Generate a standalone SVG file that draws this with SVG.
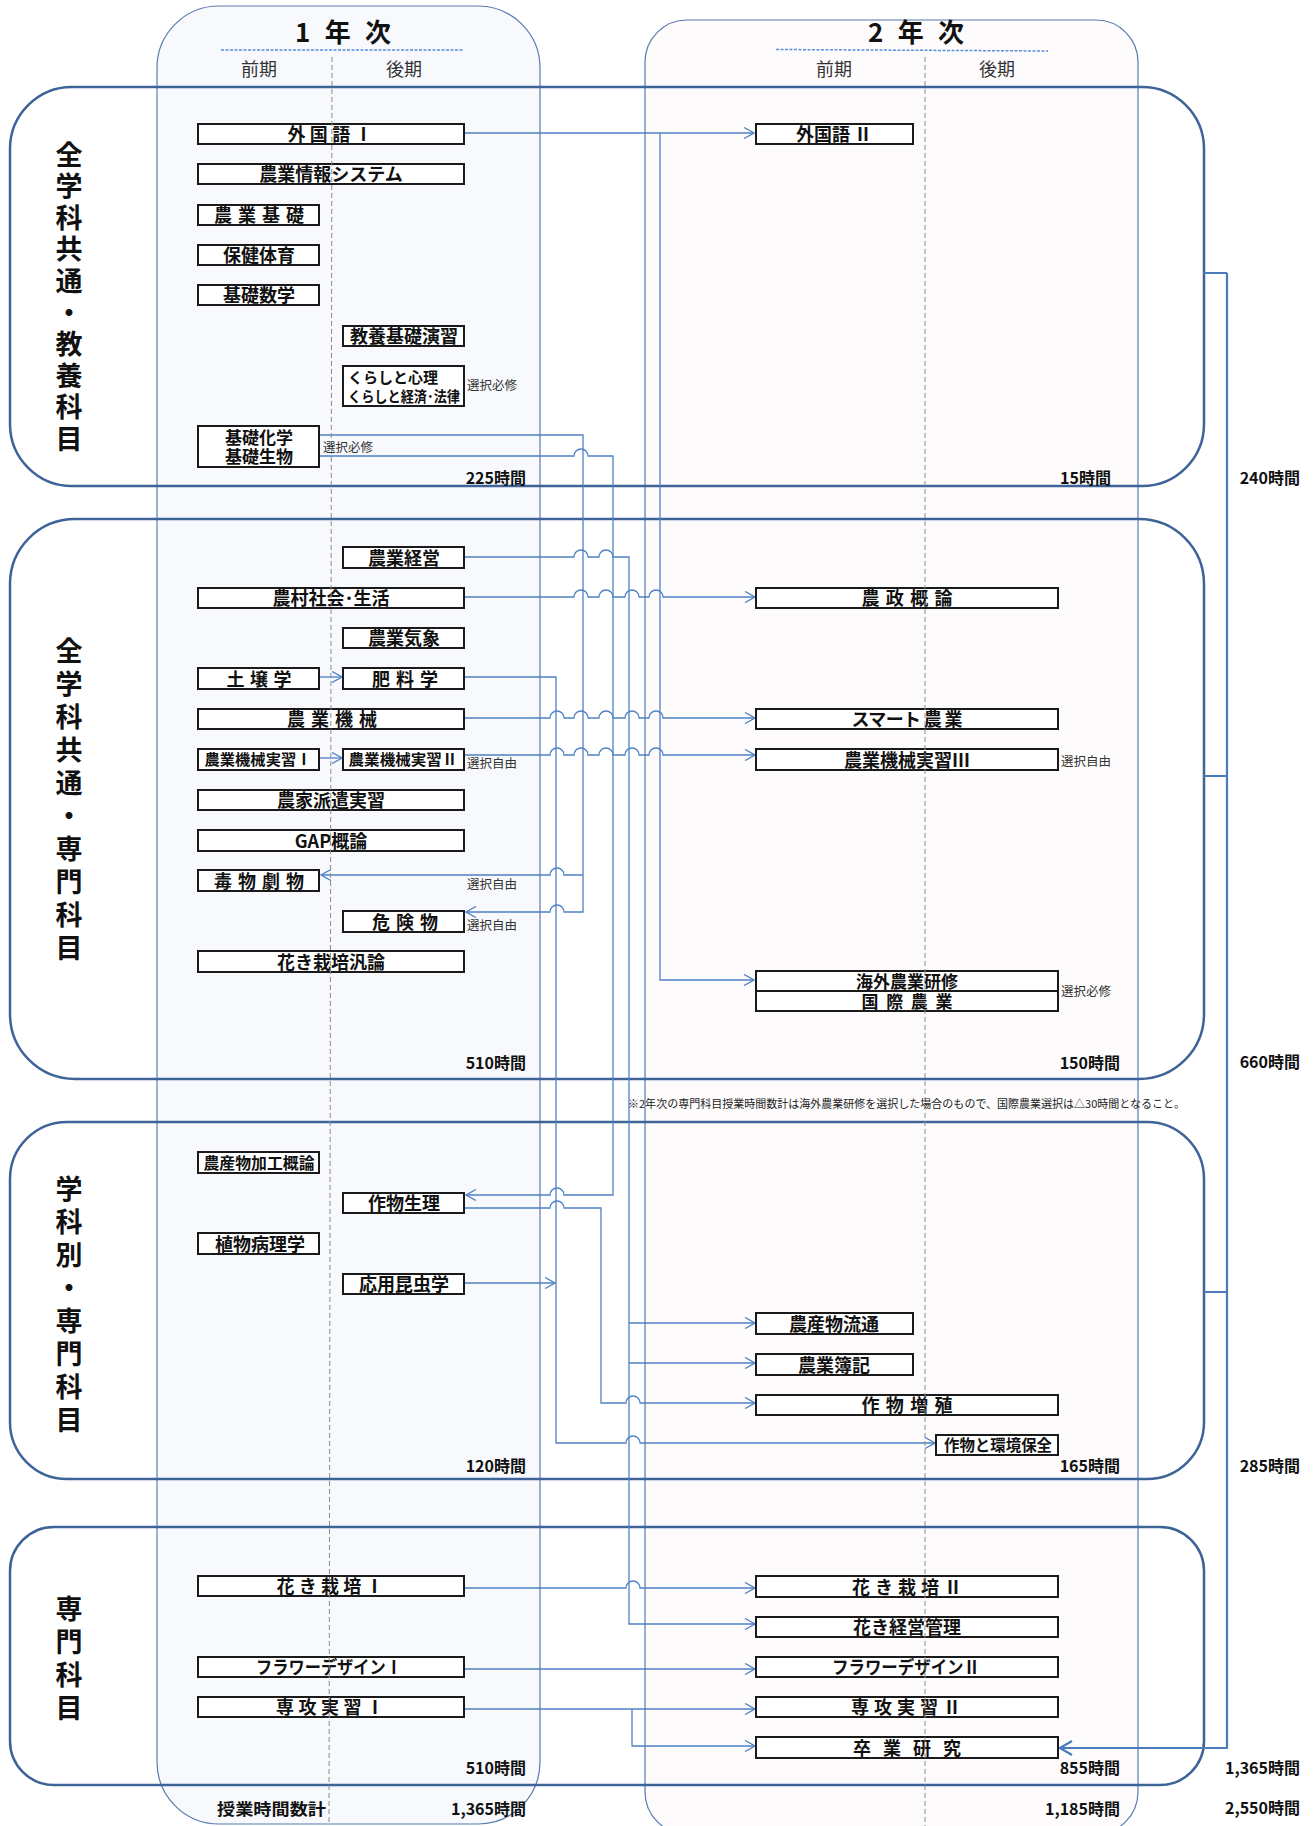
<svg xmlns="http://www.w3.org/2000/svg" width="1314" height="1826" viewBox="0 0 1314 1826">
<defs>
<style>
.col{stroke:#5a7bb0;stroke-width:1.2}
.sec{fill:none;stroke:#3e6399;stroke-width:2.5}
.div{stroke:#8a8a8a;stroke-width:1;stroke-dasharray:5,3;fill:none}
.dot{stroke:#5b8fd6;stroke-width:1.5;stroke-dasharray:3,1.5;fill:none}
.hd{font-family:"Noto Sans CJK JP",sans-serif;font-weight:700;font-size:26px;text-anchor:middle;dominant-baseline:central;fill:#111}
.term{font-family:"Noto Sans CJK JP",sans-serif;font-size:18px;text-anchor:middle;dominant-baseline:central;fill:#333}
.vt{font-family:"Noto Sans CJK JP",sans-serif;font-weight:700;font-size:27px;text-anchor:middle;dominant-baseline:central;fill:#111}
.box rect{fill:#fff;stroke:#1a1a1a;stroke-width:2}
.box text{font-family:"Noto Sans CJK JP",sans-serif;font-weight:700;font-size:18px;text-anchor:middle;dominant-baseline:central;fill:#111;transform:translateY(-1px)}
.box text.sm{font-size:15px}
.box text.s16{font-size:16px}
.box text.s17{font-size:17px}
.box text.lf{text-anchor:start;font-size:15px}
.cn{fill:none;stroke:#4f81c4;stroke-width:1.3}
.ar{marker-end:url(#arr)}
.br{fill:none;stroke:#4a7bbf;stroke-width:2.2}
.hrs{font-family:"Noto Sans CJK JP",sans-serif;font-weight:700;font-size:16px;text-anchor:end;dominant-baseline:central;fill:#111}
.note{font-family:"Noto Sans CJK JP",sans-serif;font-size:12.5px;dominant-baseline:central;fill:#333}
.foot{font-family:"Noto Sans CJK JP",sans-serif;font-size:11px;dominant-baseline:central;fill:#222}
</style>
<marker id="arr" viewBox="0 0 12 12" refX="11" refY="6" markerWidth="12" markerHeight="12" markerUnits="userSpaceOnUse" orient="auto">
<path d="M1,0.5 L11,6 L1,11.5" fill="none" stroke="#4f81c4" stroke-width="1.3"/>
</marker>
<marker id="arrB" viewBox="0 0 14 16" refX="13" refY="8" markerWidth="14" markerHeight="16" markerUnits="userSpaceOnUse" orient="auto">
<path d="M1,1 L13,8 L1,15" fill="none" stroke="#4a7bbf" stroke-width="2.2"/>
</marker>
</defs>
<rect width="1314" height="1826" fill="#fff"/>

<g id="columns">
<rect class="col" x="157" y="6" width="383" height="1818" rx="62" fill="#f7f9fc"/>
<rect class="col" x="645" y="20" width="493" height="1814" rx="42" fill="#fdfbfc"/>
<text class="hd" x="343" y="30" textLength="96" lengthAdjust="spacing">1 年 次</text>
<line class="dot" x1="221" y1="50" x2="463" y2="50"/>
<text class="term" x="259" y="68">前期</text>
<text class="term" x="404" y="68">後期</text>
<text class="hd" x="916" y="30" textLength="96" lengthAdjust="spacing">2 年 次</text>
<line class="dot" x1="776" y1="49.5" x2="1048" y2="51"/>
<text class="term" x="834" y="68">前期</text>
<text class="term" x="997" y="68">後期</text>
</g>

<g id="sections">
<rect class="sec" x="10" y="87" width="1194" height="399" rx="62"/>
<rect class="sec" x="10" y="519" width="1194" height="560" rx="65"/>
<rect class="sec" x="10" y="1122" width="1194" height="357" rx="57"/>
<rect class="sec" x="10" y="1527" width="1194" height="258" rx="44"/>
</g>

<g id="section-titles">
<text class="vt" x="69" y="153">全</text><text class="vt" x="69" y="184.6">学</text><text class="vt" x="69" y="216.2">科</text><text class="vt" x="69" y="247.8">共</text><text class="vt" x="69" y="279.4">通</text><text class="vt" x="69" y="311">・</text><text class="vt" x="69" y="342.6">教</text><text class="vt" x="69" y="374.2">養</text><text class="vt" x="69" y="405.8">科</text><text class="vt" x="69" y="437.4">目</text>
<text class="vt" x="69" y="649">全</text><text class="vt" x="69" y="682">学</text><text class="vt" x="69" y="715">科</text><text class="vt" x="69" y="748">共</text><text class="vt" x="69" y="781">通</text><text class="vt" x="69" y="814">・</text><text class="vt" x="69" y="847">専</text><text class="vt" x="69" y="880">門</text><text class="vt" x="69" y="913">科</text><text class="vt" x="69" y="946">目</text>
<text class="vt" x="69" y="1187">学</text><text class="vt" x="69" y="1220">科</text><text class="vt" x="69" y="1253">別</text><text class="vt" x="69" y="1286">・</text><text class="vt" x="69" y="1319">専</text><text class="vt" x="69" y="1352">門</text><text class="vt" x="69" y="1385">科</text><text class="vt" x="69" y="1418">目</text>
<text class="vt" x="69" y="1607">専</text><text class="vt" x="69" y="1640">門</text><text class="vt" x="69" y="1673">科</text><text class="vt" x="69" y="1706">目</text>
</g>

<g id="connectors">
<path class="cn ar" d="M464,133 H754"/>
<path class="cn ar" d="M660,133 V980 H754"/>
<path class="cn ar" d="M306,435 H583 V912 H564 a7,7 0 0 0 -14,0 H466"/>
<path class="cn ar" d="M583,875 H564 a7,7 0 0 0 -14,0 H321"/>
<path class="cn ar" d="M304,456 H574 a7,7 0 0 1 14,0 H613 V1195 H564 a7,7 0 0 0 -14,0 H466"/>
<path class="cn ar" d="M464,557 H574 a7,7 0 0 1 14,0 H599 a7,7 0 0 1 14,0 H629 V1624 H755"/>
<path class="cn ar" d="M629,1323 H755"/>
<path class="cn ar" d="M629,1363 H755"/>
<path class="cn ar" d="M464,597 H574 a7,7 0 0 1 14,0 H599 a7,7 0 0 1 14,0 H625 a7,7 0 0 1 14,0 H649 a7,7 0 0 1 14,0 H755"/>
<path class="cn ar" d="M464,677 H556 V1443 H626 a7,7 0 0 1 14,0 H935"/>
<path class="cn ar" d="M464,1283 H555"/>
<path class="cn ar" d="M464,718 H550 a7,7 0 0 1 14,0 H574 a7,7 0 0 1 14,0 H599 a7,7 0 0 1 14,0 H625 a7,7 0 0 1 14,0 H649 a7,7 0 0 1 14,0 H755"/>
<path class="cn ar" d="M464,755 H550 a7,7 0 0 1 14,0 H574 a7,7 0 0 1 14,0 H599 a7,7 0 0 1 14,0 H625 a7,7 0 0 1 14,0 H649 a7,7 0 0 1 14,0 H755"/>
<path class="cn ar" d="M320,677 H342"/>
<path class="cn ar" d="M320,758 H342"/>
<path class="cn ar" d="M464,1208 H550 a7,7 0 0 1 14,0 H601 V1403 H626 a7,7 0 0 1 14,0 H755"/>
<path class="cn ar" d="M464,1588 H626 a7,7 0 0 1 14,0 H755"/>
<path class="cn ar" d="M464,1669 H755"/>
<path class="cn ar" d="M464,1709 H755"/>
<path class="cn ar" d="M632,1709 V1746 H755"/>
<path class="br" d="M1204,273 H1227 M1204,776 H1227 M1204,1292 H1227"/>
<path class="br" d="M1227,273 V1748 H1060" marker-end="url(#arrB)"/>
</g>

<g id="n-gaikokugo1" class="box"><rect x="198" y="124" width="266" height="20"/><text x="330" y="134" textLength="85" lengthAdjust="spacing">外 国 語 Ⅰ</text></g>
<g id="n-nogyojoho" class="box"><rect x="198" y="164" width="266" height="20"/><text x="331" y="174">農業情報システム</text></g>
<g id="n-nogyokiso" class="box"><rect x="198" y="205" width="121" height="20"/><text x="259" y="215" textLength="90" lengthAdjust="spacing">農 業 基 礎</text></g>
<g id="n-hoken" class="box"><rect x="198" y="245" width="121" height="20"/><text x="259" y="255">保健体育</text></g>
<g id="n-kisosugaku" class="box"><rect x="198" y="285" width="121" height="20"/><text x="259" y="295">基礎数学</text></g>
<g id="n-kyoyo" class="box"><rect x="343" y="326" width="121" height="20"/><text x="404" y="336">教養基礎演習</text></g>
<g id="n-kurashi" class="box"><rect x="343" y="366" width="121" height="40"/><text class="lf" x="348" y="377">くらしと心理</text><text class="lf" x="348" y="396" textLength="112" lengthAdjust="spacingAndGlyphs">くらしと経済･法律</text></g>
<g id="n-kiso-kagaku" class="box"><rect x="198" y="426" width="121" height="41"/><text class="s17" x="259" y="437">基礎化学</text><text class="s17" x="259" y="456">基礎生物</text></g>
<g id="n-gaikokugo2" class="box"><rect x="756" y="124" width="157" height="20"/><text x="834" y="134" textLength="76" lengthAdjust="spacing">外国語 Ⅱ</text></g>

<g id="n-nogyokeiei" class="box"><rect x="343" y="547" width="121" height="21"/><text x="404" y="557.5">農業経営</text></g>
<g id="n-nosonshakai" class="box"><rect x="198" y="588" width="266" height="20"/><text x="331" y="598">農村社会･生活</text></g>
<g id="n-nogyokisho" class="box"><rect x="343" y="628" width="121" height="20"/><text x="404" y="638">農業気象</text></g>
<g id="n-dojo" class="box"><rect x="198" y="668" width="121" height="21"/><text x="259" y="678.5" textLength="65" lengthAdjust="spacing">土 壌 学</text></g>
<g id="n-hiryo" class="box"><rect x="343" y="668" width="121" height="21"/><text x="405" y="678.5" textLength="66" lengthAdjust="spacing">肥 料 学</text></g>
<g id="n-nogyokikai" class="box"><rect x="198" y="709" width="266" height="20"/><text x="332" y="719" textLength="90" lengthAdjust="spacing">農 業 機 械</text></g>
<g id="n-kikaijisshu1" class="box"><rect x="198" y="749" width="121" height="21"/><text class="sm" x="258" y="759.5" textLength="107" lengthAdjust="spacingAndGlyphs">農業機械実習Ⅰ</text></g>
<g id="n-kikaijisshu2" class="box"><rect x="343" y="749" width="121" height="21"/><text class="sm" x="403" y="759.5" textLength="109" lengthAdjust="spacingAndGlyphs">農業機械実習Ⅱ</text></g>
<g id="n-noka" class="box"><rect x="198" y="790" width="266" height="20"/><text x="331" y="800">農家派遣実習</text></g>
<g id="n-gap" class="box"><rect x="198" y="830" width="266" height="21"/><text x="331" y="840.5">GAP概論</text></g>
<g id="n-dokubutsu" class="box"><rect x="198" y="870" width="121" height="21"/><text x="259" y="880.5" textLength="90" lengthAdjust="spacing">毒 物 劇 物</text></g>
<g id="n-kikenbutsu" class="box"><rect x="343" y="911" width="121" height="21"/><text x="405" y="921.5" textLength="66" lengthAdjust="spacing">危 険 物</text></g>
<g id="n-kakisaibai-hanron" class="box"><rect x="198" y="951" width="266" height="21"/><text x="331" y="961.5">花き栽培汎論</text></g>
<g id="n-noseigairon" class="box"><rect x="756" y="588" width="302" height="20"/><text x="907" y="598" textLength="91" lengthAdjust="spacing">農 政 概 論</text></g>
<g id="n-smart" class="box"><rect x="756" y="709" width="302" height="20"/><text x="907" y="719" textLength="111" lengthAdjust="spacing">スマート 農 業</text></g>
<g id="n-kikaijisshu3" class="box"><rect x="756" y="749" width="302" height="21"/><text x="907" y="759.5">農業機械実習Ⅲ</text></g>
<g id="n-kaigai" class="box"><rect x="756" y="971" width="302" height="20"/><text class="s17" x="907" y="981">海外農業研修</text><rect x="756" y="991" width="302" height="20"/><text class="s17" x="907" y="1001" textLength="91" lengthAdjust="spacing">国 際 農 業</text></g>

<g id="n-kako" class="box"><rect x="198" y="1152" width="121" height="21"/><text class="s16" x="259" y="1162.5" textLength="111" lengthAdjust="spacingAndGlyphs">農産物加工概論</text></g>
<g id="n-sakumotsuseiri" class="box"><rect x="343" y="1193" width="121" height="20"/><text x="404" y="1203">作物生理</text></g>
<g id="n-byori" class="box"><rect x="198" y="1233" width="121" height="21"/><text x="260" y="1243.5">植物病理学</text></g>
<g id="n-konchu" class="box"><rect x="343" y="1274" width="121" height="20"/><text x="404" y="1284">応用昆虫学</text></g>
<g id="n-ryutsu" class="box"><rect x="756" y="1313" width="157" height="21"/><text x="834" y="1323.5">農産物流通</text></g>
<g id="n-boki" class="box"><rect x="756" y="1354" width="157" height="21"/><text x="834" y="1364.5">農業簿記</text></g>
<g id="n-zoshoku" class="box"><rect x="756" y="1395" width="302" height="20"/><text x="907" y="1405" textLength="91" lengthAdjust="spacing">作 物 増 殖</text></g>
<g id="n-kankyo" class="box"><rect x="936" y="1435" width="122" height="20"/><text class="s16" x="998" y="1445" textLength="108" lengthAdjust="spacingAndGlyphs">作物と環境保全</text></g>

<g id="n-kakisaibai1" class="box"><rect x="198" y="1576" width="266" height="20"/><text x="330" y="1586" textLength="107" lengthAdjust="spacing">花 き 栽 培 Ⅰ</text></g>
<g id="n-flower1" class="box"><rect x="198" y="1657" width="266" height="20"/><text x="329" y="1667" textLength="146" lengthAdjust="spacingAndGlyphs">フラワーデザインⅠ</text></g>
<g id="n-senkou1" class="box"><rect x="198" y="1697" width="266" height="20"/><text x="330" y="1707" textLength="108" lengthAdjust="spacing">専 攻 実 習 Ⅰ</text></g>
<g id="n-kakisaibai2" class="box"><rect x="756" y="1576" width="302" height="21"/><text x="907" y="1586.5" textLength="110" lengthAdjust="spacing">花 き 栽 培 Ⅱ</text></g>
<g id="n-kakikeiei" class="box"><rect x="756" y="1617" width="302" height="20"/><text x="907" y="1627">花き経営管理</text></g>
<g id="n-flower2" class="box"><rect x="756" y="1657" width="302" height="20"/><text x="906" y="1667" textLength="148" lengthAdjust="spacingAndGlyphs">フラワーデザインⅡ</text></g>
<g id="n-senkou2" class="box"><rect x="756" y="1697" width="302" height="20"/><text x="906" y="1707" textLength="110" lengthAdjust="spacing">専 攻 実 習 Ⅱ</text></g>
<g id="n-sotsugyo" class="box"><rect x="756" y="1737" width="302" height="21"/><text x="907" y="1747.5" textLength="108" lengthAdjust="spacing">卒 業 研 究</text></g>

<g id="dividers">
<line class="div" x1="332" y1="57" x2="329" y2="1823"/>
<line class="div" x1="925" y1="57" x2="925" y2="1826"/>
</g>

<g id="labels">
<text class="note" x="467" y="384">選択必修</text>
<text class="note" x="323" y="446">選択必修</text>
<text class="note" x="467" y="762">選択自由</text>
<text class="note" x="467" y="883">選択自由</text>
<text class="note" x="467" y="924">選択自由</text>
<text class="note" x="1061" y="760">選択自由</text>
<text class="note" x="1061" y="990">選択必修</text>
<text class="foot" x="628" y="1103" textLength="557" lengthAdjust="spacingAndGlyphs">※2年次の専門科目授業時間数計は海外農業研修を選択した場合のもので、国際農業選択は△30時間となること。</text>
<text class="hrs" x="526" y="477">225時間</text>
<text class="hrs" x="1111" y="477">15時間</text>
<text class="hrs" x="1300" y="477">240時間</text>
<text class="hrs" x="526" y="1062">510時間</text>
<text class="hrs" x="1120" y="1062">150時間</text>
<text class="hrs" x="1300" y="1061">660時間</text>
<text class="hrs" x="526" y="1465">120時間</text>
<text class="hrs" x="1120" y="1465">165時間</text>
<text class="hrs" x="1300" y="1465">285時間</text>
<text class="hrs" x="526" y="1767">510時間</text>
<text class="hrs" x="1120" y="1767">855時間</text>
<text class="hrs" x="1300" y="1767">1,365時間</text>
<text class="hrs" x="326" y="1808" textLength="109" lengthAdjust="spacingAndGlyphs">授業時間数計</text>
<text class="hrs" x="526" y="1808">1,365時間</text>
<text class="hrs" x="1120" y="1808">1,185時間</text>
<text class="hrs" x="1300" y="1807">2,550時間</text>
</g>
</svg>
